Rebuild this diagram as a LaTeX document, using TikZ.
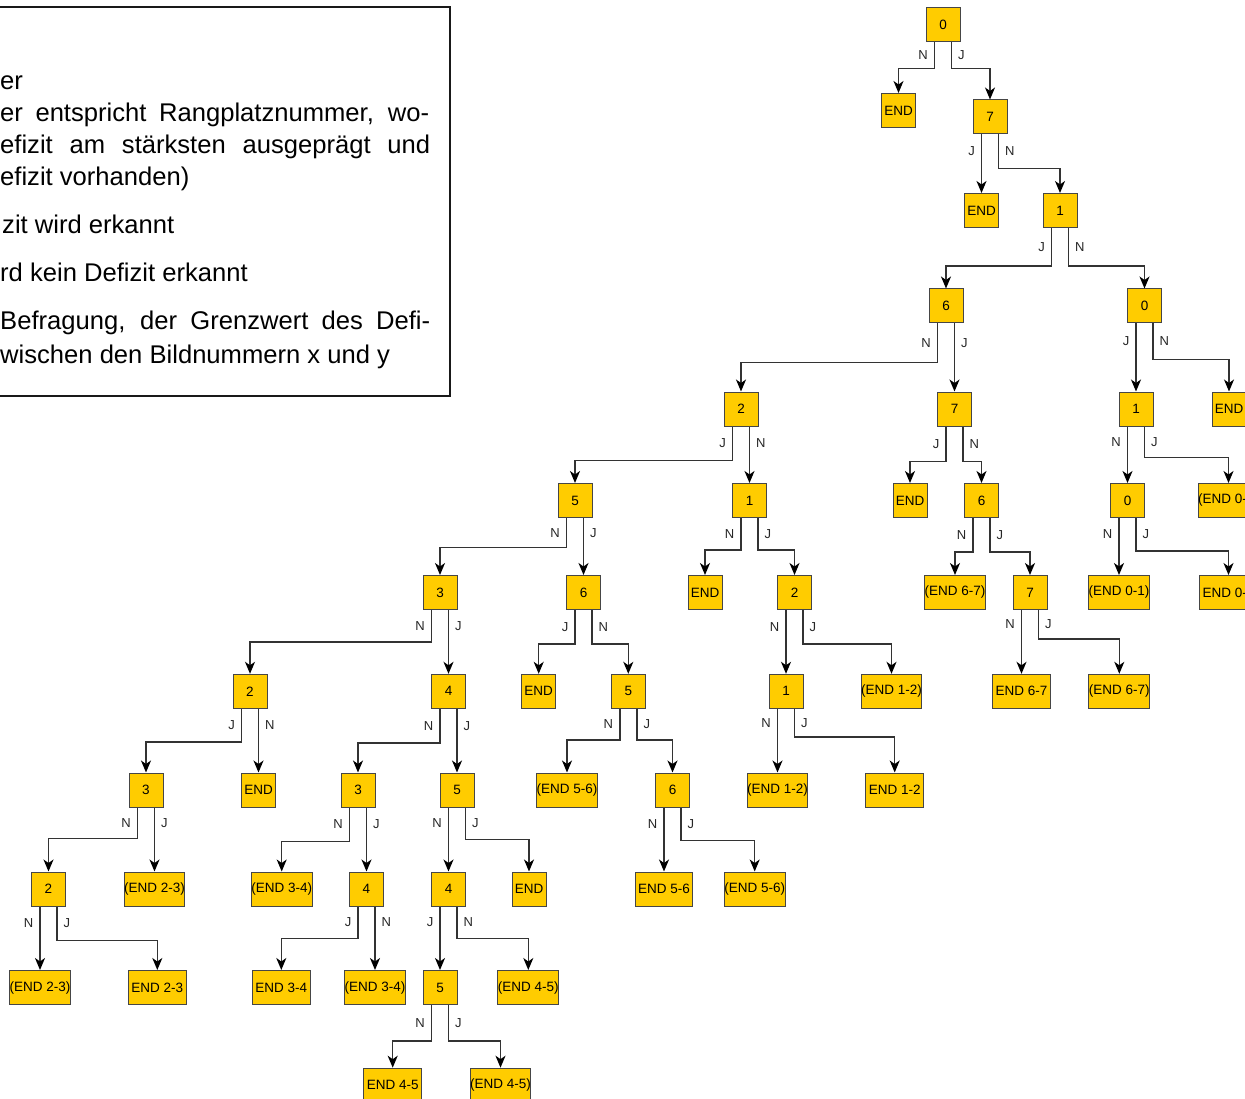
\documentclass[tikz,border=0pt]{standalone}
\usepackage{fontspec}
\setmainfont{Liberation Sans}
\usetikzlibrary{arrows.meta}

\definecolor{boxfill}{RGB}{255,204,0}
\definecolor{boxline}{RGB}{70,70,70}
\definecolor{wire}{RGB}{51,51,51}

\tikzset{
    box/.style={draw=boxline, line width=1pt, fill=boxfill,
        minimum width=34pt, minimum height=34pt, inner sep=0pt,
        font=\fontsize{13.5}{15}\selectfont},
    endbox/.style={box, minimum width=57.5pt},
    conn/.style={draw=wire, line width=1.4pt,
        -{Stealth[length=12pt,width=10pt,inset=3.5pt,color=black]}},
    lab/.style={font=\fontsize{13}{15}\selectfont, inner sep=0pt, text=black!85},
    labl/.style={lab, midway, left=6pt},
    labr/.style={lab, midway, right=6pt}
}

\begin{document}
\begin{tikzpicture}[x=1pt,y=-1pt]
    \useasboundingbox (0,0) rectangle (1245,1099);

    % legend, cut at the left border
    \draw[line width=1.5pt, black!90] (-10,7) rectangle (450,396);
    \begin{scope}[every node/.style={anchor=base west, inner sep=0pt,
        font=\fontsize{25.6}{32}\selectfont}]
        \node (leg1) at (0,90) {er};
        \node (leg2) at (0,122) {\makebox[429pt][s]{er entspricht Rangplatznummer, wo-}};
        \node (leg3) at (0,154) {\makebox[430pt][s]{efizit am stärksten ausgeprägt und}};
        \node (leg4) at (0,186) {efizit vorhanden)};
        \node (leg5) at (2,234) {zit wird erkannt};
        \node (leg6) at (0,282) {rd kein Defizit erkannt};
        \node (leg7) at (0,330) {\makebox[430pt][s]{Befragung, der Grenzwert des Defi-}};
        \node (leg8) at (0,363) {wischen den Bildnummern x und y};
    \end{scope}

    % decision boxes, row by row
    \node[box] (a1) at (943,25) {0};

    \node[box] (b1) at (898.5,110.5) {END};
    \node[box] (b2) at (990,117) {7};

    \node[box] (c1) at (981.5,210.5) {END};
    \node[box] (c2) at (1060,210.5) {1};

    \node[box] (d1) at (946,306) {6};
    \node[box] (d2) at (1144.5,306) {0};

    \node[box] (e1) at (741,409) {2};
    \node[box] (e2) at (954.5,409) {7};
    \node[box] (e3) at (1136,409) {1};
    \node[box] (e4) at (1229,409) {END};

    \node[box] (f1) at (575,500.5) {5};
    \node[box] (f2) at (749.5,500.5) {1};
    \node[box] (f3) at (910,500.5) {END};
    \node[box] (f4) at (981.5,500.5) {6};
    \node[box] (f5) at (1127.5,500.5) {0};
    \node[endbox] (f6) at (1228.5,500.5) {(END 0-1)};

    \node[box] (g1) at (440,592.5) {3};
    \node[box] (g2) at (583.5,592.5) {6};
    \node[box] (g3) at (705,592.5) {END};
    \node[box] (g4) at (794.5,592.5) {2};
    \node[endbox] (g5) at (955,592.5) {(END 6-7)};
    \node[box] (g6) at (1030,592.5) {7};
    \node[endbox] (g7) at (1119,592.5) {(END 0-1)};
    \node[endbox] (g8) at (1228.5,592.5) {END 0-1};

    \node[box] (h1) at (250,691.3) {2};
    \node[box] (h2) at (448.5,691.3) {4};
    \node[box] (h3) at (538.7,691.3) {END};
    \node[box] (h4) at (628.3,691.3) {5};
    \node[box] (h5) at (786,691.3) {1};
    \node[endbox] (h6) at (891.5,691.3) {(END 1-2)};
    \node[endbox] (h7) at (1021.5,691.3) {END 6-7};
    \node[endbox] (h8) at (1119.3,691.3) {(END 6-7)};

    \node[box] (i1) at (146,790) {3};
    \node[box] (i2) at (258.5,790) {END};
    \node[box] (i3) at (358,790) {3};
    \node[box] (i4) at (457,790) {5};
    \node[endbox] (i5) at (567,790) {(END 5-6)};
    \node[box] (i6) at (672.5,790) {6};
    \node[endbox] (i7) at (777.5,790) {(END 1-2)};
    \node[endbox] (i8) at (894.7,790) {END 1-2};

    \node[box] (j1) at (48.5,889) {2};
    \node[endbox] (j2) at (154.5,889) {(END 2-3)};
    \node[endbox] (j3) at (281.7,889) {(END 3-4)};
    \node[box] (j4) at (366.5,889) {4};
    \node[box] (j5) at (448.5,889) {4};
    \node[box] (j6) at (529,889) {END};
    \node[endbox] (j7) at (664,889) {END 5-6};
    \node[endbox] (j8) at (754.7,889) {(END 5-6)};

    \node[endbox] (k1) at (40,987.5) {(END 2-3)};
    \node[endbox] (k2) at (157.3,987.5) {END 2-3};
    \node[endbox] (k3) at (281.3,987.5) {END 3-4};
    \node[endbox] (k4) at (375,987.5) {(END 3-4)};
    \node[box] (k5) at (440,987.5) {5};
    \node[endbox] (k6) at (528.3,987.5) {(END 4-5)};

    \node[endbox] (l1) at (392.7,1085.2) {END 4-5};
    \node[endbox] (l2) at (500.5,1085.2) {(END 4-5)};

    % branches: left exit and right exit of each box
    \draw[conn] ([xshift=-8.5pt]a1.south) -- ++(0,26) node[labl]{N} -| (b1.north);
    \draw[conn] ([xshift=8.5pt]a1.south) -- ++(0,26) node[labr]{J} -| (b2.north);
    \draw[conn] ([xshift=-8.5pt]b2.south) -- ++(0,34) node[labl]{J} -| (c1.north);
    \draw[conn] ([xshift=8.5pt]b2.south) -- ++(0,34) node[labr]{N} -| (c2.north);
    \draw[conn] ([xshift=-8.5pt]c2.south) -- ++(0,38) node[labl]{J} -| (d1.north);
    \draw[conn] ([xshift=8.5pt]c2.south) -- ++(0,38) node[labr]{N} -| (d2.north);
    \draw[conn] ([xshift=-8.5pt]d1.south) -- ++(0,39) node[labl]{N} -| (e1.north);
    \draw[conn] ([xshift=8.5pt]d1.south) -- ++(0,39) node[labr]{J} -| (e2.north);
    \draw[conn] ([xshift=-8.5pt]d2.south) -- ++(0,36) node[labl]{J} -| (e3.north);
    \draw[conn] ([xshift=8.5pt]d2.south) -- ++(0,36) node[labr]{N} -| (e4.north);
    \draw[conn] ([xshift=-8.5pt]e1.south) -- ++(0,34) node[labl]{J} -| (f1.north);
    \draw[conn] ([xshift=8.5pt]e1.south) -- ++(0,34) node[labr]{N} -| (f2.north);
    \draw[conn] ([xshift=-8.5pt]e2.south) -- ++(0,35) node[labl]{J} -| (f3.north);
    \draw[conn] ([xshift=8.5pt]e2.south) -- ++(0,35) node[labr]{N} -| (f4.north);
    \draw[conn] ([xshift=-8.5pt]e3.south) -- ++(0,31) node[labl]{N} -| (f5.north);
    \draw[conn] ([xshift=8.5pt]e3.south) -- ++(0,31) node[labr]{J} -| (f6.north);
    \draw[conn] ([xshift=-8.5pt]f1.south) -- ++(0,29.5) node[labl]{N} -| (g1.north);
    \draw[conn] ([xshift=8.5pt]f1.south) -- ++(0,29.5) node[labr]{J} -| (g2.north);
    \draw[conn] ([xshift=-8.5pt]f2.south) -- ++(0,32) node[labl]{N} -| (g3.north);
    \draw[conn] ([xshift=8.5pt]f2.south) -- ++(0,32) node[labr]{J} -| (g4.north);
    \draw[conn] ([xshift=-8.5pt]f4.south) -- ++(0,34) node[labl]{N} -| (g5.north);
    \draw[conn] ([xshift=8.5pt]f4.south) -- ++(0,34) node[labr]{J} -| (g6.north);
    \draw[conn] ([xshift=-8.5pt]f5.south) -- ++(0,33) node[labl]{N} -| (g7.north);
    \draw[conn] ([xshift=8.5pt]f5.south) -- ++(0,33) node[labr]{J} -| (g8.north);
    \draw[conn] ([xshift=-8.5pt]g1.south) -- ++(0,32) node[labl]{N} -| (h1.north);
    \draw[conn] ([xshift=8.5pt]g1.south) -- ++(0,32) node[labr]{J} -| (h2.north);
    \draw[conn] ([xshift=-8.5pt]g2.south) -- ++(0,34) node[labl]{J} -| (h3.north);
    \draw[conn] ([xshift=8.5pt]g2.south) -- ++(0,34) node[labr]{N} -| (h4.north);
    \draw[conn] ([xshift=-8.5pt]g4.south) -- ++(0,34) node[labl]{N} -| (h5.north);
    \draw[conn] ([xshift=8.5pt]g4.south) -- ++(0,34) node[labr]{J} -| (h6.north);
    \draw[conn] ([xshift=-8.5pt]g6.south) -- ++(0,29) node[labl]{N} -| (h7.north);
    \draw[conn] ([xshift=8.5pt]g6.south) -- ++(0,29) node[labr]{J} -| (h8.north);
    \draw[conn] ([xshift=-8.5pt]h1.south) -- ++(0,33) node[labl]{J} -| (i1.north);
    \draw[conn] ([xshift=8.5pt]h1.south) -- ++(0,33) node[labr]{N} -| (i2.north);
    \draw[conn] ([xshift=-8.5pt]h2.south) -- ++(0,34) node[labl]{N} -| (i3.north);
    \draw[conn] ([xshift=8.5pt]h2.south) -- ++(0,34) node[labr]{J} -| (i4.north);
    \draw[conn] ([xshift=-8.5pt]h4.south) -- ++(0,31) node[labl]{N} -| (i5.north);
    \draw[conn] ([xshift=8.5pt]h4.south) -- ++(0,31) node[labr]{J} -| (i6.north);
    \draw[conn] ([xshift=-8.5pt]h5.south) -- ++(0,28) node[labl]{N} -| (i7.north);
    \draw[conn] ([xshift=8.5pt]h5.south) -- ++(0,28) node[labr]{J} -| (i8.north);
    \draw[conn] ([xshift=-8.5pt]i1.south) -- ++(0,31) node[labl]{N} -| (j1.north);
    \draw[conn] ([xshift=8.5pt]i1.south) -- ++(0,31) node[labr]{J} -| (j2.north);
    \draw[conn] ([xshift=-8.5pt]i3.south) -- ++(0,34) node[labl]{N} -| (j3.north);
    \draw[conn] ([xshift=8.5pt]i3.south) -- ++(0,34) node[labr]{J} -| (j4.north);
    \draw[conn] ([xshift=-8.5pt]i4.south) -- ++(0,32) node[labl]{N} -| (j5.north);
    \draw[conn] ([xshift=8.5pt]i4.south) -- ++(0,32) node[labr]{J} -| (j6.north);
    \draw[conn] ([xshift=-8.5pt]i6.south) -- ++(0,33) node[labl]{N} -| (j7.north);
    \draw[conn] ([xshift=8.5pt]i6.south) -- ++(0,33) node[labr]{J} -| (j8.north);
    \draw[conn] ([xshift=-8.5pt]j1.south) -- ++(0,34) node[labl]{N} -| (k1.north);
    \draw[conn] ([xshift=8.5pt]j1.south) -- ++(0,34) node[labr]{J} -| (k2.north);
    \draw[conn] ([xshift=-8.5pt]j4.south) -- ++(0,32) node[labl]{J} -| (k3.north);
    \draw[conn] ([xshift=8.5pt]j4.south) -- ++(0,32) node[labr]{N} -| (k4.north);
    \draw[conn] ([xshift=-8.5pt]j5.south) -- ++(0,32) node[labl]{J} -| (k5.north);
    \draw[conn] ([xshift=8.5pt]j5.south) -- ++(0,32) node[labr]{N} -| (k6.north);
    \draw[conn] ([xshift=-8.5pt]k5.south) -- ++(0,36) node[labl]{N} -| (l1.north);
    \draw[conn] ([xshift=8.5pt]k5.south) -- ++(0,36) node[labr]{J} -| (l2.north);
\end{tikzpicture}
\end{document}
